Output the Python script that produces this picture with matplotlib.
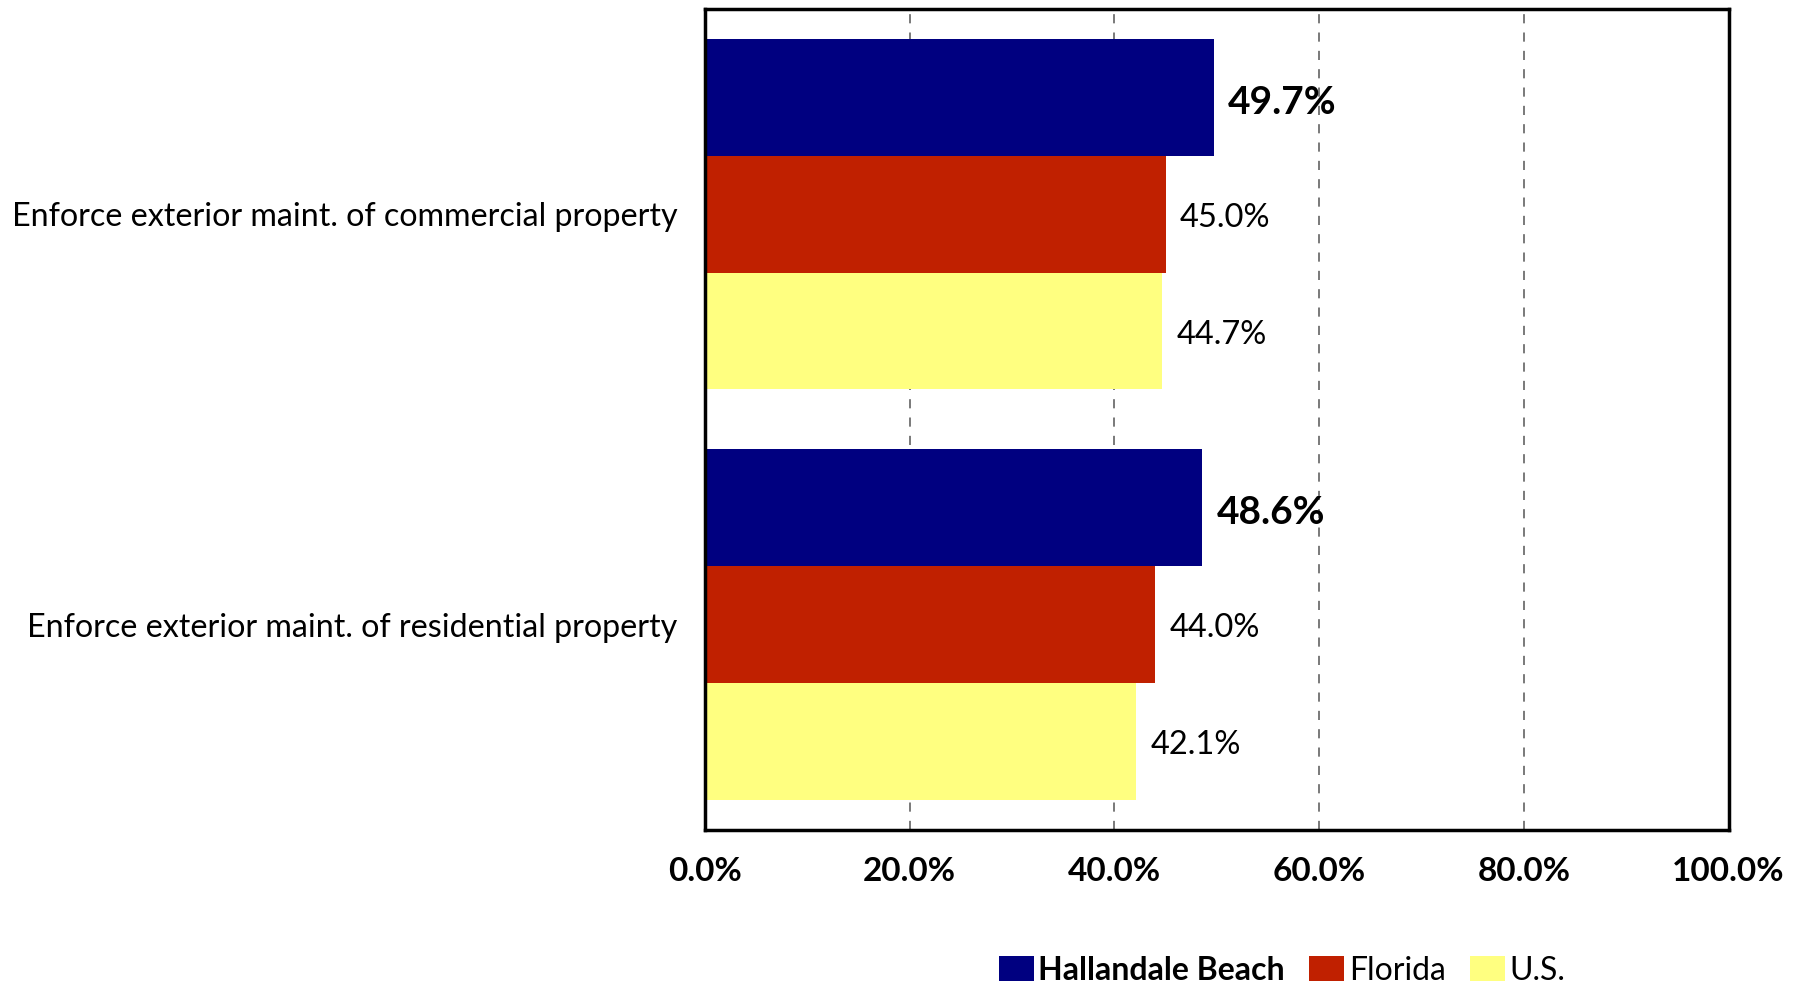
import matplotlib
matplotlib.use("Agg")
import matplotlib.pyplot as plt
import numpy as np
from matplotlib.patches import Patch

categories = ["Enforce exterior maint. of commercial property",
              "Enforce exterior maint. of residential property"]
series_names = ["Hallandale Beach", "Florida", "U.S."]
hallandale = [49.7, 48.6]
florida = [45.0, 44.0]
us = [44.7, 42.1]
xticks = [0, 20, 40, 60, 80, 100]

colors = ["#000080", "#C02000", "#FFFF80"]
plt.rcParams['font.family'] = ['Lato', 'DejaVu Sans']

fig = plt.figure(figsize=(18.07, 9.85), dpi=100)
ax = fig.add_axes([0.3901, 0.1577, 0.9566 - 0.3901, 0.9907 - 0.1577])

bh = 0.2845
y = np.arange(len(categories))
all_series = [hallandale, florida, us]
for i, (vals, c) in enumerate(zip(all_series, colors)):
    pos = y + (i - 1) * bh
    ax.barh(pos, vals, height=bh, color=c, zorder=2)
    for p, v in zip(pos, vals):
        if i == 0:
            ax.text(v + 1.4, p + 0.012, f"{v:.1f}%", va='center', ha='left',
                    fontsize=28, fontweight='bold', color='black')
        else:
            ax.text(v + 1.4, p + 0.009, f"{v:.1f}%", va='center', ha='left',
                    fontsize=23.5, color='black')

ax.set_xlim(0, 100)
ax.set_ylim(1.5, -0.5)
ax.set_xticks(xticks)
ax.set_xticklabels([f"{t:.1f}%" for t in xticks], fontsize=24, fontweight='bold')
ax.set_yticks(y)
ax.set_yticklabels(categories, fontsize=23.2)
ax.tick_params(axis='both', length=0)
ax.tick_params(axis='x', pad=20)
ax.tick_params(axis='y', pad=20)
ax.xaxis.grid(True, linestyle=(0, (6, 6)), color='#555555', linewidth=1.1, zorder=1)
ax.set_axisbelow(True)
for s in ax.spines.values():
    s.set_linewidth(2.5)
    s.set_color('black')

handles = [Patch(facecolor=c, edgecolor='none') for c in colors]
leg = fig.legend(handles, series_names, loc='center', bbox_to_anchor=(0.7095, 0.0145),
                 ncol=3, frameon=False, fontsize=23, handlelength=1.1, handleheight=0.85,
                 handletextpad=0.15, columnspacing=0.75)
for i, t in enumerate(leg.get_texts()):
    if i == 0:
        t.set_fontweight('bold')

fig.savefig("out.png", dpi=100)
